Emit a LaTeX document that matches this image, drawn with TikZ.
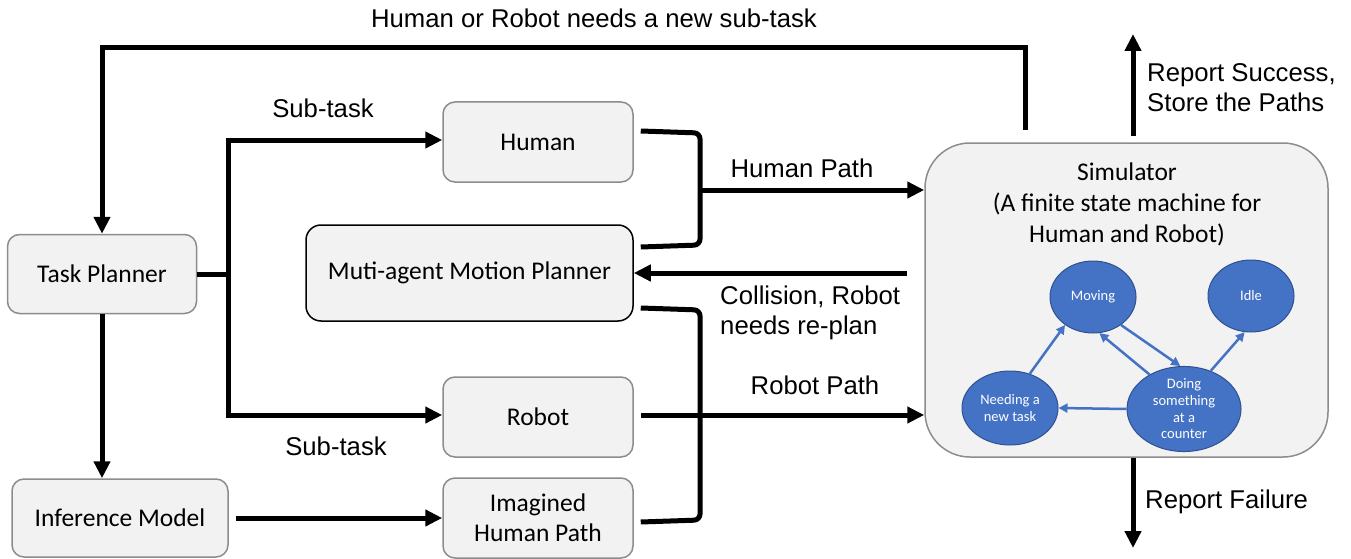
\documentclass[tikz,border=0pt]{standalone}
\usepackage{fontspec}
\setmainfont{Carlito}
\newfontfamily\arialf{Liberation Sans}
\usetikzlibrary{arrows.meta,shapes.geometric}
\definecolor{boxfill}{HTML}{F2F2F2}
\definecolor{boxline}{HTML}{8C8C8C}
\definecolor{stblue}{HTML}{4472C4}
\definecolor{stline}{HTML}{2F528F}
\tikzset{
  box/.style={draw=boxline, line width=1.5pt, fill=boxfill, rounded corners=12pt,
    inner sep=0pt, minimum width=190pt, minimum height=80pt, align=center,
    font=\fontsize{25.5}{30}\selectfont},
  conn/.style={line width=5pt, black},
  arr/.style={conn, -{Triangle[length=17pt,width=16pt]}},
  lbl/.style={font=\arialf\fontsize{25.7}{30}\selectfont, inner sep=0pt, align=left},
  state/.style={ellipse, draw=stline, line width=1pt, fill=stblue, text=white,
    inner sep=0pt, align=center, font=\fontsize{14.5}{16.7}\selectfont},
  starr/.style={stblue, line width=2.5pt, -{Triangle[length=9pt,width=9pt]}}
}
\begin{document}
\begin{tikzpicture}[x=1pt,y=-1pt]
\useasboundingbox (0,0) rectangle (1351,559);
% nodes
\node[box, minimum width=189pt, minimum height=79pt] (tp) at (102,274) {Task Planner};
\node[box, minimum width=216pt, minimum height=78pt] (im) at (120,518) {Inference Model};
\node[box] (hu) at (538,142) {Human};
\node[box, draw=black, minimum width=327pt, minimum height=96pt, rounded corners=15pt] (mmp) at (469.5,273) {Muti-agent Motion Planner};
\node[box] (ro) at (538,417) {Robot};
\node[box] (ihp) at (538,518) {Imagined\\Human Path};
\node[box, minimum width=403pt, minimum height=314pt, rounded corners=45pt] (sim) at (1126.5,300) {};
\node[font=\fontsize{25.5}{31}\selectfont, align=center, inner sep=0pt] (simt) at (1127,204) {Simulator\\(A finite state machine for\\Human and Robot)};
% state machine
\node[state, minimum width=86pt, minimum height=72pt] (mv) at (1093,297) {Moving};
\node[state, minimum width=86pt, minimum height=72pt] (idle) at (1251,296) {Idle};
\node[state, minimum width=96pt, minimum height=74pt] (nd) at (1010,408) {Needing a\\new task};
\node[state, minimum width=114pt, minimum height=72pt] (do) at (1184,409) {Doing\\something\\at a\\counter};
\draw[starr] (nd.60) -- (mv.225);
\draw[starr] (do.135) -- (mv.-80);
\draw[starr] (mv.-45) -- (do.95);
\draw[starr] (do.55) -- (idle.-100);
\draw[starr] (do.west) -- (nd.east);
% feedback top
\coordinate (fb) at (1025,130);
\draw[arr] (fb) -- (1025,48) -| (tp.north);
\node[lbl] (fbl) at (594,18) {Human or Robot needs a new sub-task};
% task planner bus
\coordinate (bus) at (228,274);
\draw[conn] (tp.east) -- (bus);
\draw[arr] (228,138) -- (228,140) -- (hu.west |- 0,140);
\draw[conn] (228,138) -- (228,417);
\draw[arr] (225.5,415) -- (ro.west |- 0,415);
\node[lbl] (st1) at (323,108) {Sub-task};
\node[lbl] (st2) at (336,446) {Sub-task};
% task planner to inference
\draw[arr] (tp.south) -- (tp.south |- im.north);
% inference to imagined
\draw[arr] ([xshift=7pt]im.east) -- (ihp.west);
% bracket 1
\draw[conn, rounded corners=6pt] ([xshift=7pt]hu.east |- 0,131) -- (700,133) -- (700,245) -- ([xshift=7pt]mmp.east |- 0,247);
\draw[arr] (700,190) -- (sim.west |- 0,190);
\node[lbl] (hp) at (802,168) {Human Path};
% collision
\coordinate (col) at (907,273);
\draw[arr] (col) -- (mmp.east);
\node[lbl, anchor=west] (coll) at (720,313) {Collision, Robot\\needs re-plan};
% bracket 2
\draw[conn, rounded corners=6pt] ([xshift=7pt]mmp.east |- 0,308) -- (700,310) -- (700,520) -- ([xshift=7pt]ihp.east |- 0,522);
\draw[arr] ([xshift=7pt]ro.east |- 0,415) -- (sim.west |- 0,415);
\node[lbl] (rp) at (815,385) {Robot Path};
% report success / failure
\coordinate (rs) at (1133,34);
\coordinate (rf) at (1133,548);
\draw[arr] ([yshift=6pt]sim.north -| rs) -- (rs);
\draw[arr] (sim.south -| rf) -- (rf);
\node[lbl, anchor=west] (rsl) at (1147,88) {Report Success,\\Store the Paths};
\node[lbl, anchor=west] (rfl) at (1145,502) {Report Failure};
\end{tikzpicture}
\end{document}
